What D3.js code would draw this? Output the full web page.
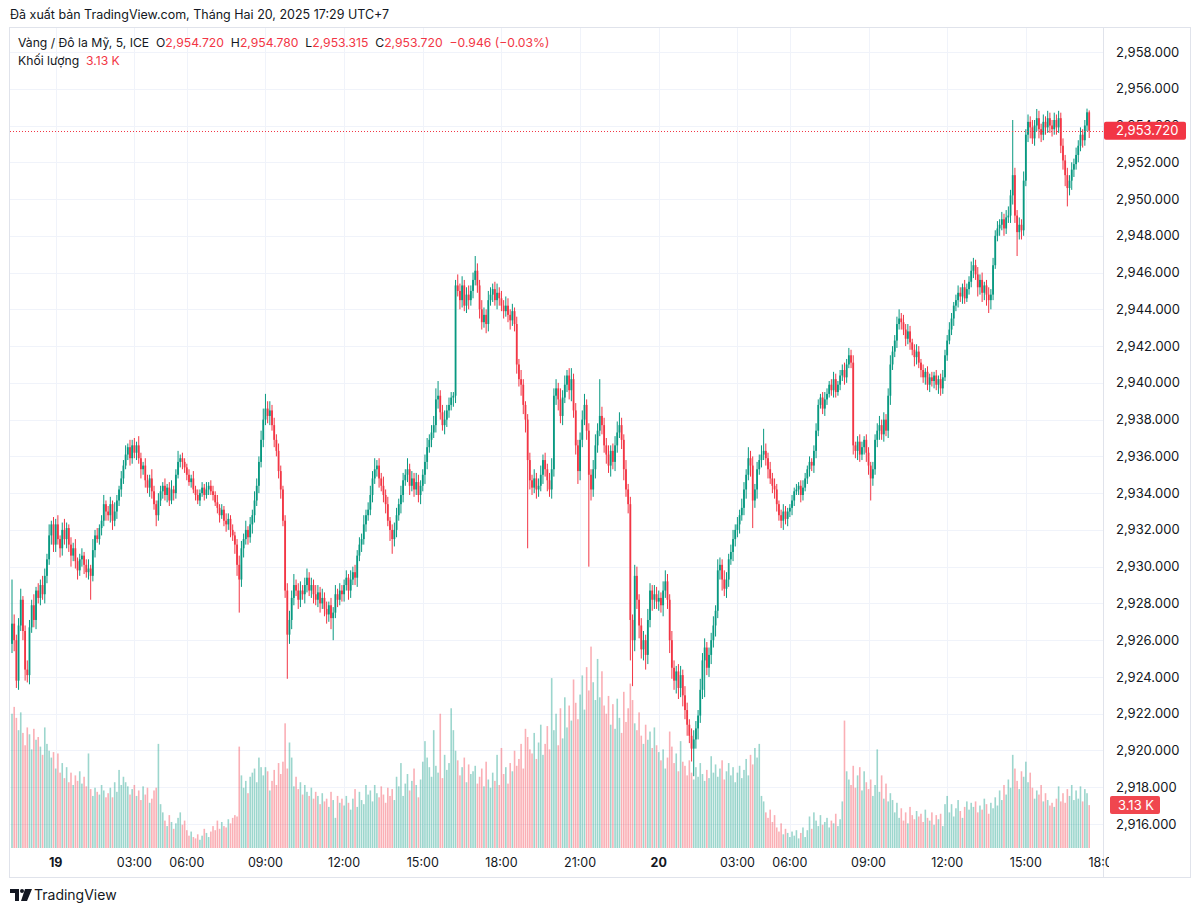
<!DOCTYPE html>
<html>
<head>
<meta charset="utf-8">
<script src="https://cdn.jsdelivr.net/npm/d3@7/dist/d3.min.js"></script>
<style>
body { margin: 0; background: #ffffff; }
svg { display: block; font-family: Inter, "Noto Sans", sans-serif; }
</style>
</head>
<body>
<div id="chart"></div>
<script>

// prices are stored as offsets from BASE, one line = one hour of 5-minute bars
var BASE = 2900;
var firstOpen = 25.8;

var closes = [
  26.9, 26.0, 23.8, 26.8, 28.2, 26.5, 24.4, 24.1, 26.7, 27.9, 27.1, 28.7, 28.3, 29.0, 28.5, 29.5, 30.4, 31.7, 32.3, 31.2, // 18th 22:20-23:55
  32.3, 31.5, 31.0, 32.0, 31.5, 32.1, 31.2, 30.6, 31.0, 30.3, 29.8, 30.4, // 19th 00:00
  30.6, 30.1, 29.7, 29.9, 29.5, 30.9, 31.7, 31.5, 32.1, 32.5, 33.4, 33.0,
  32.8, 33.4, 32.5, 33.0, 33.6, 34.2, 34.8, 35.5, 36.1, 36.5, 35.9, 36.6,
  36.2, 36.6, 35.9, 35.3, 35.5, 34.7, 34.3, 34.8, 34.1, 33.4, 32.8, 33.6,
  34.1, 34.4, 33.9, 34.3, 33.6, 34.2, 34.0, 35.0, 35.7, 35.9, 35.7, 35.4, // 04:00
  35.0, 34.6, 34.8, 34.2, 33.9, 33.6, 34.0, 34.3, 33.9, 34.2, 34.4, 34.1, // 06:00
  33.9, 33.5, 33.2, 32.8, 33.1, 32.5, 32.3, 32.6, 32.0, 31.7, 31.2, 30.1,
  29.3, 31.0, 31.5, 32.0, 31.6, 32.3, 32.8, 33.6, 34.4, 35.7, 36.9, 38.0,
  38.6, 38.2, 38.5, 37.7, 36.9, 36.3, 35.2, 34.2, 32.5, 28.7, 26.3, 27.1, // 09:00
  28.3, 29.0, 28.7, 28.2, 28.7, 28.5, 29.0, 29.4, 28.7, 29.0, 28.5, 28.2,
  28.6, 28.0, 28.3, 27.7, 27.4, 27.9, 27.2, 27.5, 28.5, 28.2, 28.7, 28.5,
  29.0, 29.4, 28.7, 29.3, 29.7, 29.4, 30.6, 31.2, 31.5, 32.3, 32.8, 33.1, // 12:00
  33.9, 34.8, 35.3, 35.5, 34.8, 34.4, 33.9, 33.4, 32.5, 32.0, 31.5, 32.0,
  32.8, 33.4, 33.9, 34.7, 35.0, 35.3, 34.4, 34.8, 34.2, 34.6, 33.9, 34.4,
  35.0, 35.7, 36.5, 36.9, 37.3, 37.7, 39.1, 39.3, 38.4, 37.7, 38.0, 38.5, // 15:00
  38.8, 39.2, 39.3, 45.3, 45.0, 44.5, 45.3, 44.2, 44.8, 44.5, 45.0, 45.6,
  46.1, 45.3, 44.0, 43.3, 43.7, 43.2, 44.5, 44.8, 45.1, 44.5, 44.9, 44.6,
  44.2, 43.9, 44.2, 43.7, 43.4, 43.9, 43.2, 41.0, 40.2, 39.9, 38.8, 38.0, // 18:00
  35.8, 34.7, 34.3, 34.8, 34.2, 34.4, 35.0, 35.8, 35.3, 34.7, 34.2, 35.3,
  39.3, 39.7, 39.1, 38.2, 39.2, 39.9, 40.4, 39.6, 40.2, 38.5, 36.6, 35.2,
  36.9, 38.0, 38.8, 37.4, 35.0, 34.2, 35.3, 36.6, 37.4, 38.2, 37.7, 36.6, // 21:00
  36.1, 35.5, 36.3, 35.7, 36.6, 37.3, 37.7, 36.9, 35.3, 34.2, 33.4, 27.1,
  26.0, 29.5, 28.2, 26.8, 25.5, 26.0, 25.2, 27.1, 28.7, 28.2, 28.5, 28.1,
  28.3, 27.9, 28.7, 29.2, 28.2, 26.0, 24.5, 23.8, 24.3, 23.4, 24.1, 23.0, // 20th 00:00
  22.2, 21.4, 20.8, 20.1, 20.6, 21.2, 21.9, 23.3, 24.9, 25.6, 24.5, 25.2,
  26.0, 26.8, 27.6, 29.8, 30.1, 29.3, 28.8, 29.3, 30.4, 30.8, 31.5, 32.0,
  32.3, 32.8, 33.2, 34.2, 35.0, 35.9, 35.5, 33.6, 34.2, 35.3, 35.8, 36.1, // 03:00
  36.3, 35.9, 35.3, 34.8, 34.4, 34.2, 33.4, 32.8, 32.5, 33.0, 32.6, 33.0,
  33.2, 33.6, 34.1, 34.2, 34.4, 33.9, 34.3, 34.8, 35.3, 35.7, 35.5, 36.3, // 06:00
  37.4, 38.8, 39.2, 38.6, 39.1, 39.4, 39.9, 39.6, 40.2, 39.5, 39.9, 40.4,
  40.7, 40.3, 41.0, 41.5, 41.1, 36.6, 36.3, 36.8, 36.1, 36.5, 36.9, 36.2,
  35.5, 34.8, 35.3, 36.9, 37.4, 37.7, 37.2, 38.0, 37.4, 39.3, 41.0, 41.7, // 09:00
  42.3, 43.2, 43.5, 43.3, 42.9, 42.4, 42.8, 42.2, 41.8, 41.4, 41.7, 41.1,
  40.7, 40.3, 40.6, 39.9, 40.3, 40.1, 40.4, 39.9, 40.2, 39.7, 40.3, 41.5,
  42.3, 42.9, 43.5, 44.2, 44.5, 44.9, 44.7, 45.2, 44.6, 45.1, 45.5, 46.1, // 12:00
  46.4, 45.9, 45.2, 45.6, 44.9, 45.3, 44.8, 44.5, 44.8, 46.4, 48.0, 48.4,
  48.6, 48.9, 48.4, 49.0, 49.1, 50.2, 51.3, 49.1, 48.2, 48.6, 48.3, 51.0,
  53.5, 54.2, 53.9, 53.3, 54.0, 54.4, 53.8, 53.5, 54.2, 53.9, 54.4, 54.0, // 15:00
  53.8, 54.3, 53.9, 54.4, 52.9, 52.1, 51.3, 50.6, 51.0, 51.6, 51.9, 52.4,
  52.9, 53.5, 53.2, 54.0, 54.72, 53.72 // 17:00-17:25
];

// wick lengths above / below the body, in tenths of a dollar
var wickUp = [
  24,5,3,4,6,2,3,5,4,3,6,2,4,3,5,4,3,6,2,4,
  3,5,2,4,6,3,2,4,3,5,2,3,
  4,2,3,5,2,6,3,4,2,3,5,2,
  3,4,2,5,3,2,4,3,5,2,4,3,
  4,2,5,3,2,4,3,2,5,3,2,4,
  3,2,4,2,3,5,2,3,6,2,3,2,
  2,3,2,4,2,3,2,3,2,4,2,3,
  3,2,4,2,3,2,4,3,2,3,2,3,
  5,4,3,5,2,4,3,5,4,3,5,6,
  8,4,5,3,4,3,4,3,2,3,4,5,
  4,6,3,4,5,3,4,5,3,4,3,5,
  4,3,5,3,4,2,4,3,5,3,4,3,
  3,4,2,5,3,4,3,4,3,5,3,4,
  5,4,6,3,4,3,5,3,4,2,3,4,
  4,3,5,4,3,6,3,4,3,5,4,3,
  3,4,5,3,4,5,6,8,3,4,5,3,
  4,3,2,3,6,4,5,3,4,5,3,4,
  8,4,3,5,4,3,5,4,3,4,5,3,
  4,3,5,4,3,4,2,4,3,5,3,2,
  3,4,3,5,3,4,5,3,4,3,4,6,
  4,5,3,6,4,5,3,4,6,3,4,3,
  4,5,6,3,4,3,5,6,4,20,5,4,
  4,5,3,4,5,6,7,4,3,5,3,4,
  3,6,5,3,4,5,3,6,4,3,5,4,
  4,3,5,6,4,3,5,4,3,4,5,3,
  5,4,3,4,5,4,3,6,4,5,3,4,
  4,5,3,6,4,3,5,4,3,4,5,3,
  4,3,5,4,3,6,4,5,3,4,3,5,
  12,4,3,4,3,4,3,2,3,4,3,2,
  2,3,2,3,2,3,4,3,2,3,2,3,
  4,3,2,3,4,3,2,3,4,3,2,3,
  3,4,3,4,3,4,2,3,4,3,2,3,
  3,2,4,3,4,5,3,4,3,4,5,3,
  3,4,5,3,4,3,4,3,2,3,4,3,
  2,3,2,3,2,3,2,3,2,3,4,3,
  3,4,3,2,3,4,3,2,4,3,3,5,
  4,3,4,3,4,2,3,4,3,4,3,4,
  3,4,3,4,5,3,30,4,3,4,3,5,
  3,4,3,4,3,5,4,3,4,3,4,3,
  3,4,3,4,3,4,3,4,3,4,3,4,
  3,4,3,3,2,1
];
var wickDn = [
  5,6,4,5,3,5,6,4,5,3,4,5,3,4,3,5,4,3,5,4,
  4,3,5,4,3,5,4,6,3,4,5,3,
  4,5,3,4,13,3,4,2,3,4,3,5,
  3,4,5,3,4,3,4,3,2,3,4,3,
  3,4,3,5,3,4,3,5,4,3,6,3,
  3,4,3,4,3,2,4,3,2,3,4,3,
  3,2,3,2,3,2,3,2,3,2,3,2,
  3,2,3,4,2,3,4,3,4,3,5,6,
  18,4,5,3,4,3,5,4,3,4,3,4,
  3,4,5,3,4,3,4,5,3,4,24,5,
  5,4,3,5,4,3,5,4,3,4,5,3,
  4,5,3,4,5,4,6,12,3,4,3,4,
  4,3,5,4,3,4,5,3,4,3,4,3,
  3,4,3,4,5,3,4,5,3,6,8,4,
  4,3,5,4,3,4,5,3,4,3,4,5,
  3,5,4,3,4,3,4,5,4,3,5,4,
  4,3,5,4,3,5,4,3,4,5,3,4,
  3,4,5,4,3,5,4,3,4,3,5,4,
  3,4,3,4,5,3,4,5,4,6,5,7,
  48,5,4,3,5,4,3,5,4,6,4,5,
  4,5,6,4,5,3,4,5,6,4,5,7,
  5,4,3,5,50,6,4,5,4,3,5,4,
  5,4,6,4,5,4,3,5,6,4,5,22,
  25,6,5,7,5,6,8,5,4,6,5,4,
  5,4,6,4,5,7,6,5,7,6,5,6,
  5,6,4,7,15,5,6,4,5,20,4,5,
  5,4,6,4,5,6,4,5,4,3,5,4,
  4,5,3,4,5,3,6,15,4,5,3,4,
  3,4,5,3,4,5,4,3,4,5,3,4,
  3,4,3,2,3,4,3,2,3,4,3,4,
  4,3,2,3,4,3,2,3,4,3,2,3,
  3,4,3,2,3,5,4,5,4,3,4,5,
  5,12,4,3,4,5,3,4,3,4,5,3,
  3,4,3,4,3,4,3,4,3,5,4,3,
  4,3,4,3,4,3,4,3,5,4,3,2,
  3,2,3,4,3,4,3,4,3,2,3,3,
  4,3,5,4,5,4,6,7,5,3,2,3,
  4,3,4,3,3,4,5,4,13,4,5,3,
  3,4,6,3,4,3,5,4,3,4,3,4,
  4,3,4,3,4,5,6,10,4,5,4,3,
  4,3,4,3,3,4
];

// volume per bar, thousands
var volumes = [
  9.8, 10.3, 9.5, 8.6, 9.9, 8.4, 7.5, 8.8, 8.3, 7.2, 8.7, 7.9, 8.1, 7.4, 6.8, 8.8, 7.6, 7.1, 6.6, 7.0,
  5.8, 6.9, 5.5, 6.2, 5.1, 5.9, 4.8, 5.5, 4.6, 5.3, 4.9, 5.6,
  4.7, 5.2, 4.5, 6.9, 4.3, 3.8, 4.4, 4.1, 3.9, 4.6, 4.2, 3.7,
  4.0, 4.4, 3.7, 4.8, 4.1, 5.7, 4.6, 5.2, 4.8, 4.5, 3.9, 4.3,
  4.6, 3.8, 4.2, 3.5, 4.5, 3.9, 4.4, 3.3, 3.6, 4.2, 4.4, 7.6,
  3.2, 2.6, 2.0, 1.6, 2.4, 1.9, 1.4, 1.8, 2.2, 2.6, 1.7, 2.0,
  1.3, 0.9, 1.2, 0.8, 0.7, 1.0, 0.6, 0.9, 1.4, 1.1, 0.8, 1.2,
  1.6, 1.3, 2.0, 1.4, 1.9, 1.6, 1.5, 2.1, 1.8, 2.2, 2.4, 2.3,
  7.4, 5.3, 4.4, 4.9, 4.0, 5.2, 5.5, 5.8, 4.8, 6.6, 5.9, 5.3,
  5.9, 5.6, 4.2, 4.9, 5.7, 4.6, 6.2, 5.4, 6.3, 9.1, 5.8, 7.7,
  6.6, 4.5, 5.2, 4.3, 4.8, 3.9, 4.6, 4.1, 3.8, 4.4, 3.6, 4.1,
  3.8, 3.2, 4.0, 3.4, 3.6, 3.0, 4.1, 3.5, 2.2, 3.8, 3.3, 3.6,
  3.1, 3.8, 3.3, 2.8, 3.6, 4.3, 3.0, 4.1, 3.5, 3.2, 4.6, 3.9,
  4.2, 3.4, 4.6, 4.0, 3.7, 4.5, 3.9, 3.3, 4.4, 3.8, 4.3, 3.5,
  5.2, 4.5, 6.2, 3.8, 4.7, 5.4, 4.2, 4.9, 5.8, 4.6, 3.7, 5.0,
  6.3, 7.8, 6.6, 5.9, 5.2, 8.6, 6.0, 5.5, 9.8, 5.1, 6.8, 5.7,
  6.2, 10.2, 8.6, 7.1, 6.4, 5.3, 5.9, 6.6, 4.8, 6.1, 5.4, 5.6,
  6.0, 4.7, 5.2, 5.8, 4.5, 6.3, 5.0, 4.4, 5.5, 4.9, 6.8, 4.6,
  7.3, 5.4, 5.9, 4.7, 6.2, 5.6, 7.1, 6.0, 6.5, 7.6, 5.8, 8.7,
  8.1, 7.2, 6.9, 8.4, 6.5, 7.7, 9.0, 6.8, 7.6, 8.9, 7.2, 12.4,
  8.6, 9.8, 7.5, 10.2, 8.0, 11.0, 8.8, 10.4, 9.3, 12.3, 10.6, 9.4,
  11.2, 12.6, 10.1, 13.2, 11.5, 14.7, 12.1, 10.8, 13.8, 11.0, 12.9, 10.4,
  9.8, 11.1, 9.0, 10.5, 8.7, 10.9, 9.5, 8.4, 11.4, 9.2, 10.2, 12.0,
  10.8, 9.1, 8.6, 9.9, 8.2, 7.6, 9.0, 7.9, 8.5, 7.3, 8.8, 7.5,
  7.0, 6.4, 7.2, 5.8, 6.6, 8.5, 7.4, 6.2, 6.9, 5.6, 7.8, 6.3,
  6.0, 5.3, 6.4, 5.5, 5.0, 5.9, 5.2, 6.2, 5.4, 4.9, 5.7, 5.1,
  6.7, 5.5, 6.1, 5.2, 5.8, 6.4, 5.0, 5.6, 6.2, 5.3, 5.9, 4.8,
  5.5, 6.0, 5.1, 5.7, 6.5, 5.3, 6.8, 6.1, 7.3, 6.6, 7.6, 3.8,
  3.4, 2.6, 2.2, 2.8, 1.9, 2.4, 1.5, 1.2, 1.8, 1.0, 1.4, 1.1,
  0.8, 1.2, 0.9, 1.3, 0.7, 1.1, 1.5, 0.8, 1.3, 2.3, 1.4, 2.6,
  2.0, 1.6, 2.4, 1.7, 1.9, 2.2, 1.5, 2.0, 1.8, 2.5, 1.6, 2.1,
  3.4, 9.3, 5.6, 5.0, 4.6, 6.0, 4.4, 5.3, 5.9, 4.2, 5.6, 4.8,
  4.3, 5.0, 3.8, 4.6, 7.2, 4.1, 5.3, 3.6, 4.7, 3.4, 4.0, 3.5,
  2.6, 3.3, 2.2, 2.9, 2.0, 2.6, 1.8, 3.0, 2.4, 2.1, 2.7, 2.3,
  2.5, 1.9, 2.8, 2.2, 2.0, 2.6, 1.7, 2.4, 2.1, 2.5, 1.6, 3.2,
  3.8, 2.6, 3.2, 2.3, 2.9, 3.5, 2.7, 2.2, 3.0, 3.4, 2.8, 3.3,
  3.0, 3.4, 2.6, 3.1, 2.8, 3.6, 3.2, 2.5, 3.3, 2.9, 3.7, 3.1,
  4.2, 3.5, 4.6, 3.9, 5.0, 4.4, 6.8, 5.8, 4.9, 4.3, 5.6, 5.2,
  6.3, 4.8, 5.5, 4.4, 3.6, 4.2, 3.9, 4.6, 3.4, 4.0, 3.5, 3.1,
  3.3, 3.0, 3.6, 4.5, 3.4, 4.0, 3.3, 4.3, 3.8, 4.6, 3.5, 4.2,
  3.6, 4.5, 3.4, 4.3, 4.0, 3.13
];

// time axis: label and bar index (the 05:00-06:00 break has no bars)
var tickLabels = ["19", "03:00", "06:00", "09:00", "12:00", "15:00", "18:00", "21:00",
                  "20", "03:00", "06:00", "09:00", "12:00", "15:00", "18:00"];
var tickBars = [20, 56, 80, 116, 152, 188, 224, 260, 296, 332, 356, 392, 428, 464, 500];

var lastPrice = 2953.720;
var lastVolume = 3.13;

var upColor = "#089981", downColor = "#f23645";
var textColor = "#131722", gridColor = "#f0f3fa";

var svg = d3.select("#chart").append("svg")
    .attr("width", 1200)
    .attr("height", 913);

var pane = {left: 10, right: 1103, top: 27, bottom: 848};

var x = d3.scaleLinear().domain([0, 500]).range([12, 1104.5]);
var y = d3.scaleLinear().domain([2916, 2958]).range([824, 52]);
var yVol = d3.scaleLinear().domain([0, 15]).range([848, 642.5]);

var bars = closes.map(function(c, i) {
  var o = i ? closes[i - 1] : firstOpen;
  return {
    i: i,
    o: BASE + o,
    c: BASE + c,
    h: BASE + Math.max(o, c) + (wickUp[i] || 0) / 10,
    l: BASE + Math.min(o, c) - (wickDn[i] || 0) / 10,
    v: volumes[i] || 0
  };
});

svg.append("defs").append("clipPath").attr("id", "paneClip")
  .append("rect")
    .attr("x", pane.left).attr("y", pane.top)
    .attr("width", pane.right - pane.left).attr("height", pane.bottom - pane.top);

svg.append("defs").append("clipPath").attr("id", "axisClip")
  .append("rect")
    .attr("x", pane.left).attr("y", pane.bottom)
    .attr("width", pane.right - pane.left + 6).attr("height", 28);

// grid
var priceTicks = d3.range(2916, 2959, 2);
var grid = svg.append("g").attr("clip-path", "url(#paneClip)");
grid.selectAll(".hgrid")
    .data(priceTicks)
  .enter().append("line")
    .attr("x1", pane.left).attr("x2", pane.right)
    .attr("y1", function(d) { return Math.round(y(d)) + 0.5; })
    .attr("y2", function(d) { return Math.round(y(d)) + 0.5; })
    .attr("stroke", gridColor);
grid.selectAll(".vgrid")
    .data(tickBars)
  .enter().append("line")
    .attr("x1", function(d) { return Math.round(x(d)) + 0.5; })
    .attr("x2", function(d) { return Math.round(x(d)) + 0.5; })
    .attr("y1", pane.top).attr("y2", pane.bottom)
    .attr("stroke", gridColor);

// frame
svg.append("rect")
    .attr("x", 9.5).attr("y", 27.5).attr("width", 1181).attr("height", 850)
    .attr("fill", "none").attr("stroke", "#e0e3eb");
svg.append("line")
    .attr("x1", 1103.5).attr("x2", 1103.5).attr("y1", 27.5).attr("y2", 877.5)
    .attr("stroke", "#e0e3eb");

var plot = svg.append("g").attr("clip-path", "url(#paneClip)");

// volume
plot.selectAll(".vol")
    .data(bars)
  .enter().append("rect")
    .attr("x", function(d) { return x(d.i) - 0.8; })
    .attr("width", 1.6)
    .attr("y", function(d) { return yVol(d.v); })
    .attr("height", function(d) { return yVol(0) - yVol(d.v); })
    .attr("fill", function(d) { return d.c >= d.o ? upColor : downColor; })
    .attr("fill-opacity", 0.4);

// candles
plot.selectAll(".wick")
    .data(bars)
  .enter().append("line")
    .attr("x1", function(d) { return x(d.i); })
    .attr("x2", function(d) { return x(d.i); })
    .attr("y1", function(d) { return y(d.h); })
    .attr("y2", function(d) { return y(d.l); })
    .attr("stroke", function(d) { return d.c >= d.o ? upColor : downColor; })
    .attr("stroke-width", 1);

plot.selectAll(".body")
    .data(bars)
  .enter().append("rect")
    .attr("x", function(d) { return x(d.i) - 0.9; })
    .attr("width", 1.8)
    .attr("y", function(d) { return y(Math.max(d.o, d.c)); })
    .attr("height", function(d) { return Math.max(1, Math.abs(y(d.o) - y(d.c))); })
    .attr("fill", function(d) { return d.c >= d.o ? upColor : downColor; });

// last price line
plot.append("line")
    .attr("x1", pane.left).attr("x2", pane.right)
    .attr("y1", Math.round(y(lastPrice)) + 0.5).attr("y2", Math.round(y(lastPrice)) + 0.5)
    .attr("stroke", downColor)
    .attr("stroke-dasharray", "1,2");

// price scale
var fmt = d3.format(",.3f");
svg.append("g").selectAll("text")
    .data(priceTicks)
  .enter().append("text")
    .attr("x", 1116)
    .attr("y", function(d) { return y(d); })
    .attr("dy", "0.35em")
    .attr("font-size", "13px")
    .attr("fill", textColor)
    .text(function(d) { return fmt(d); });

var priceTag = svg.append("g");
priceTag.append("rect")
    .attr("x", 1104).attr("y", y(lastPrice) - 9)
    .attr("width", 82).attr("height", 18).attr("rx", 2)
    .attr("fill", downColor);
priceTag.append("text")
    .attr("x", 1116).attr("y", y(lastPrice)).attr("dy", "0.35em")
    .attr("font-size", "13px").attr("fill", "#ffffff")
    .text(fmt(lastPrice));

var volTag = svg.append("g");
volTag.append("rect")
    .attr("x", 1110).attr("y", yVol(lastVolume) - 9)
    .attr("width", 50).attr("height", 18).attr("rx", 2)
    .attr("fill", "#f0464f");
volTag.append("text")
    .attr("x", 1118).attr("y", yVol(lastVolume)).attr("dy", "0.35em")
    .attr("font-size", "13px").attr("fill", "#ffffff")
    .text(lastVolume.toFixed(2) + " K");

// time scale
svg.append("g").attr("clip-path", "url(#axisClip)").selectAll("text")
    .data(tickBars)
  .enter().append("text")
    .attr("x", function(d) { return x(d); })
    .attr("y", 863)
    .attr("dy", "0.35em")
    .attr("text-anchor", "middle")
    .attr("font-size", "12.5px")
    .attr("font-weight", function(d, i) { return tickLabels[i].length < 3 ? 700 : 400; })
    .attr("fill", textColor)
    .text(function(d, i) { return tickLabels[i]; });

// header & legend
svg.append("text")
    .attr("x", 10).attr("y", 19)
    .attr("font-size", "12.5px").attr("fill", textColor)
    .text("Đã xuất bản TradingView.com, Tháng Hai 20, 2025 17:29 UTC+7");

var last = bars[bars.length - 1];
var legend = svg.append("text")
    .attr("x", 18).attr("y", 47)
    .attr("font-size", "12.2px").attr("fill", textColor)
    .attr("xml:space", "preserve");
legend.append("tspan").text("Vàng / Đô la Mỹ, 5, ICE  O");
legend.append("tspan").attr("fill", downColor).text(fmt(last.o));
legend.append("tspan").text("  H");
legend.append("tspan").attr("fill", downColor).text("2,954.780");
legend.append("tspan").text("  L");
legend.append("tspan").attr("fill", downColor).text("2,953.315");
legend.append("tspan").text("  C");
legend.append("tspan").attr("fill", downColor).text(fmt(last.c));
legend.append("tspan").attr("fill", downColor).text("  −0.946 (−0.03%)");

var volLegend = svg.append("text")
    .attr("x", 18).attr("y", 65)
    .attr("font-size", "12.2px").attr("fill", textColor)
    .attr("xml:space", "preserve");
volLegend.append("tspan").text("Khối lượng  ");
volLegend.append("tspan").attr("fill", downColor).text(lastVolume.toFixed(2) + " K");

// logo
var logo = svg.append("g").attr("transform", "translate(10,889)");
logo.append("path")
    .attr("d", "M0 0H9V12H5V4H0Z M15 0H22L17 12H11Z")
    .attr("fill", textColor);
logo.append("circle").attr("cx", 12).attr("cy", 2).attr("r", 2).attr("fill", textColor);
logo.append("text")
    .attr("x", 24).attr("y", 11)
    .attr("font-size", "14px").attr("fill", textColor)
    .text("TradingView");

</script>
</body>
</html>
